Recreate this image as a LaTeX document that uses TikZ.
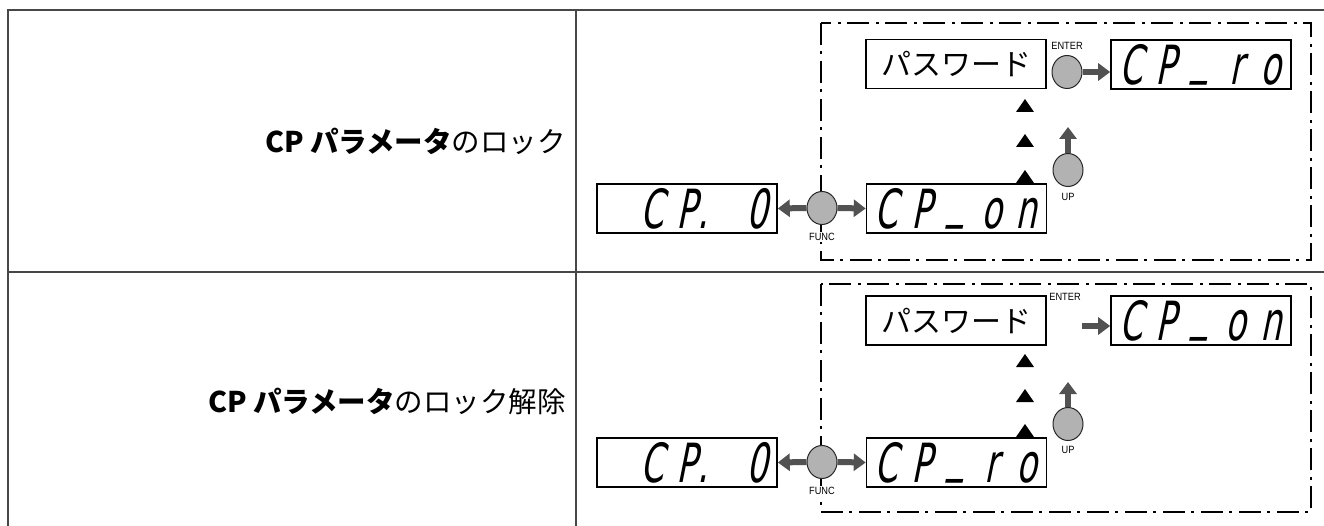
\documentclass[tikz,border=0pt]{standalone}
\usepackage{fontspec}
\setmainfont{Liberation Sans}
\newfontfamily\jp{Noto Sans CJK JP}
\newfontfamily\segfont{DejaVu Sans}[FakeSlant=0.2,FakeStretch=0.62]
\newfontfamily\tinyfont{Liberation Sans}[FakeStretch=0.88]
\usetikzlibrary{arrows.meta,shapes.geometric}
\newcommand\segcell[1]{\makebox[35pt]{#1}}
\newcommand\segund{\raisebox{12pt}{\_}}
\tikzset{
  tableline/.style={draw=black!72, line width=1.5pt},
  dashframe/.style={draw=black, line width=1.3pt, dash pattern=on 22pt off 6pt on 3pt off 7pt},
  disp/.style={draw=black, line width=1.6pt, rectangle, minimum width=180pt, minimum height=49pt,
    inner sep=0pt, text height=40pt, text depth=0pt, font=\segfont\fontsize{54}{54}\selectfont},
  pwbox/.style={draw=black, line width=1.6pt, rectangle, minimum width=180pt, minimum height=49pt,
    inner sep=0pt, font=\jp\fontsize{30}{30}\selectfont},
  btn/.style={ellipse, draw=black!85, fill=black!30, line width=1pt, minimum width=30pt,
    minimum height=33pt, inner sep=0pt},
  garrow/.style={draw=black!68, line width=6pt, -{Triangle[length=12pt,width=17pt]}},
  tri/.style={fill=black},
  lbl/.style={inner sep=1.5pt, font=\tinyfont\fontsize{10.5}{10.5}\selectfont},
  rowlabel/.style={anchor=east, inner sep=0pt, font=\jp\fontsize{28.5}{28.5}\selectfont}
}
\begin{document}
\begin{tikzpicture}[x=1pt,y=-1pt]
\useasboundingbox (0,0) rectangle (1324,526);
\clip (0,0) rectangle (1324,526);
% table
\draw[tableline] (1340,10) -- (8,10) -- (8,540);
\draw[tableline] (576,10) -- (576,540);
\draw[tableline] (8,272) -- (1340,272);
% row labels
\node[rowlabel] (lab1) at (566,141) {\textbf{CP パラメータ}のロック};
\node[rowlabel] (lab2) at (566,401) {\textbf{CP パラメータ}のロック解除};

% ---------- row 1 ----------
\draw[dashframe] (821,23) rectangle (1311,260);
\node[disp] (a0) at (687,208.5) {\segcell{}\segcell{C}\segcell{P\rlap{.}}\segcell{}\segcell{0}};
\node[disp] (a1) at (956.5,208.5) {\segcell{C}\segcell{P}\segcell{\segund}\segcell{o}\segcell{n}};
\node[pwbox] (p1) at (956,64) {パスワード};
\node[disp] (a2) at (1201,64.5) {\segcell{C}\segcell{P}\segcell{\segund}\segcell{r}\segcell{o}};
\node[btn] (f1) at (822,208) {};
\draw[garrow] (f1.west) -- (a0.east);
\draw[garrow] (f1.east) -- (a1.west);
\node[btn] (e1) at (1067,72) {};
\draw[garrow] (e1.east) -- (e1.east -| a2.west);
\node[btn] (u1) at (1068,170) {};
\coordinate (u1t) at (1068,127);
\draw[garrow] (u1.north) -- (u1t);
\fill[tri] (1025,99) -- (1034,112) -- (1016,112) -- cycle;
\fill[tri] (1025,134) -- (1034,147) -- (1016,147) -- cycle;
\fill[tri] (1025,170) -- (1034,183) -- (1016,183) -- cycle;
\node[lbl, fill=white] (fl1) at (822,237) {FUNC};
\node[lbl] (el1) at (1067,46) {ENTER};
\node[lbl] (ul1) at (1068,197) {UP};

% ---------- row 2 ----------
\draw[dashframe] (821,284) rectangle (1311,512);
\node[disp] (b0) at (687,462.5) {\segcell{}\segcell{C}\segcell{P\rlap{.}}\segcell{}\segcell{0}};
\node[disp] (b1) at (956.5,462.5) {\segcell{C}\segcell{P}\segcell{\segund}\segcell{r}\segcell{o}};
\node[pwbox] (p2) at (956,320.5) {パスワード};
\node[disp] (b2) at (1201,320.5) {\segcell{C}\segcell{P}\segcell{\segund}\segcell{o}\segcell{n}};
\node[btn] (f2) at (822,462) {};
\draw[garrow] (f2.west) -- (b0.east);
\draw[garrow] (f2.east) -- (b1.west);
\coordinate (e2) at (1082,326);
\draw[garrow] (e2) -- (e2 -| b2.west);
\node[btn] (u2) at (1068,424) {};
\coordinate (u2t) at (1068,382);
\draw[garrow] (u2.north) -- (u2t);
\fill[tri] (1025,354) -- (1034,367) -- (1016,367) -- cycle;
\fill[tri] (1025,389) -- (1034,402) -- (1016,402) -- cycle;
\fill[tri] (1025,424) -- (1034,437) -- (1016,437) -- cycle;
\node[lbl, fill=white] (fl2) at (822,491) {FUNC};
\node[lbl] (el2) at (1065,297) {ENTER};
\node[lbl] (ul2) at (1068,450) {UP};
\end{tikzpicture}
\end{document}
